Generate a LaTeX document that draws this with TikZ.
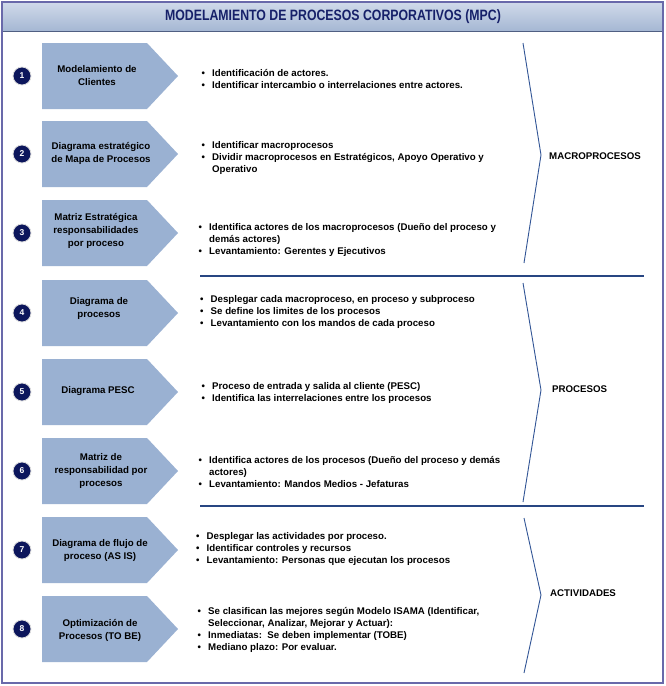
\documentclass[tikz,border=0pt]{standalone}
\usepackage{fontspec}
\setmainfont{Liberation Sans}
\definecolor{chev}{RGB}{154,177,210}
\definecolor{navy}{RGB}{12,22,92}
\definecolor{framec}{RGB}{105,105,170}
\definecolor{sepc}{RGB}{40,70,130}
\definecolor{brkc}{RGB}{50,85,150}
\definecolor{titletext}{RGB}{22,32,105}
\definecolor{tbtop}{RGB}{208,218,234}
\definecolor{tbbot}{RGB}{165,183,211}
\definecolor{tbline}{RGB}{80,95,130}
\newcommand\bitem{\makebox[10.5pt][l]{\textbullet}}
\newcommand\bcont{\hspace*{10.5pt}}
\begin{document}
\begin{tikzpicture}[x=1pt,y=-1pt,
  chevlabel/.style={align=center, inner sep=0, font=\bfseries\fontsize{9.7}{13}\selectfont},
  bultext/.style={anchor=west, inner sep=0, align=left, font=\bfseries\fontsize{9.7}{12}\selectfont},
  numc/.style={circle, fill=navy, draw=gray!25, line width=0.8pt, minimum size=18pt, inner sep=0, text=white, font=\bfseries\fontsize{8.5}{9}\selectfont},
  grplabel/.style={anchor=west, inner sep=0, font=\bfseries\fontsize{9.7}{12}\selectfont},
  sepline/.style={draw=sepc, line width=2.5pt},
  brk/.style={draw=brkc, line width=0.9pt, line join=miter}
]
\useasboundingbox (0,0) rectangle (666,686);
\fill[white] (0,0) rectangle (666,686);
% title bar
\shade[top color=tbtop, bottom color=tbbot] (2,2) rectangle (663,31);
\draw[tbline, line width=1pt] (2,2) rectangle (663,31);
\node[inner sep=0, text=titletext, font=\bfseries\fontsize{15}{16}\selectfont] (title) at (333,16.5) {\scalebox{0.82}[1]{MODELAMIENTO DE PROCESOS CORPORATIVOS (MPC)}};
% outer frame
\draw[framec, line width=1.5pt] (2,2) rectangle (663,683);
% chevrons and number circles
\foreach \t [count=\i] in {43,121,200,280,359,438,517,596} {
  \fill[chev] (42,\t) -- (147,\t) -- (178,\t+33) -- (147,\t+66) -- (42,\t+66) -- cycle;
  \node[numc] (n\i) at (22,\t+33) {\i};
}
\node[chevlabel] (c1) at (97,76) {Modelamiento de\\Clientes};
\node[chevlabel] (c2) at (101,153) {Diagrama estratégico\\de Mapa de Procesos};
\node[chevlabel] (c3) at (96,231) {Matriz Estratégica\\responsabilidades\\por proceso};
\node[chevlabel] (c4) at (99,308) {Diagrama de\\procesos};
\node[chevlabel] (c5) at (98,391) {Diagrama PESC};
\node[chevlabel] (c6) at (101,471) {Matriz de\\responsabilidad por\\procesos};
\node[chevlabel] (c7) at (100,550) {Diagrama de flujo de\\proceso (AS IS)};
\node[chevlabel] (c8) at (100,630) {Optimización de\\Procesos (TO BE)};
% bullet texts
\node[bultext] (t1) at (201.5,79) {\bitem Identificación de actores.\\\bitem Identificar intercambio o interrelaciones entre actores.};
\node[bultext] (t2) at (201.5,158) {\bitem Identificar macroprocesos\\\bitem Dividir macroprocesos en Estratégicos, Apoyo Operativo y\\\bcont Operativo};
\node[bultext] (t3) at (198.5,240) {\bitem Identifica actores de los macroprocesos (Dueño del proceso y\\\bcont demás actores)\\\bitem Levantamiento: Gerentes y Ejecutivos};
\node[bultext] (t4) at (200,312) {\bitem Desplegar cada macroproceso, en proceso y subproceso\\\bitem Se define los limites de los procesos\\\bitem Levantamiento con los mandos de cada proceso};
\node[bultext] (t5) at (201.5,393) {\bitem Proceso de entrada y salida al cliente (PESC)\\\bitem Identifica las interrelaciones entre los procesos};
\node[bultext] (t6) at (198.5,472) {\bitem Identifica actores de los procesos (Dueño del proceso y demás\\\bcont actores)\\\bitem Levantamiento: Mandos Medios - Jefaturas};
\node[bultext] (t7) at (196,549) {\bitem Desplegar las actividades por proceso.\\\bitem Identificar controles y recursos\\\bitem Levantamiento: Personas que ejecutan los procesos};
\node[bultext] (t8) at (197.5,630) {\bitem Se clasifican las mejores según Modelo ISAMA (Identificar,\\\bcont Seleccionar, Analizar, Mejorar y Actuar):\\\bitem Inmediatas:\ \ Se deben implementar (TOBE)\\\bitem Mediano plazo: Por evaluar.};
% separators
\coordinate (s1a) at (200,276); \coordinate (s1b) at (644,276);
\coordinate (s2a) at (200,506); \coordinate (s2b) at (644,506);
\draw[sepline] (s1a) -- (s1b);
\draw[sepline] (s2a) -- (s2b);
% brackets
\coordinate (b1t) at (523,43); \coordinate (b1m) at (541,155); \coordinate (b1b) at (524,263);
\coordinate (b2t) at (523,283); \coordinate (b2m) at (541,390); \coordinate (b2b) at (523,502);
\coordinate (b3t) at (524,518); \coordinate (b3m) at (541,595); \coordinate (b3b) at (524,673);
\draw[brk] (b1t) -- (b1m) -- (b1b);
\draw[brk] (b2t) -- (b2m) -- (b2b);
\draw[brk] (b3t) -- (b3m) -- (b3b);
\node[grplabel] (g1) at (549,156) {MACROPROCESOS};
\node[grplabel] (g2) at (552,389) {PROCESOS};
\node[grplabel] (g3) at (550,593) {ACTIVIDADES};
\end{tikzpicture}
\end{document}
